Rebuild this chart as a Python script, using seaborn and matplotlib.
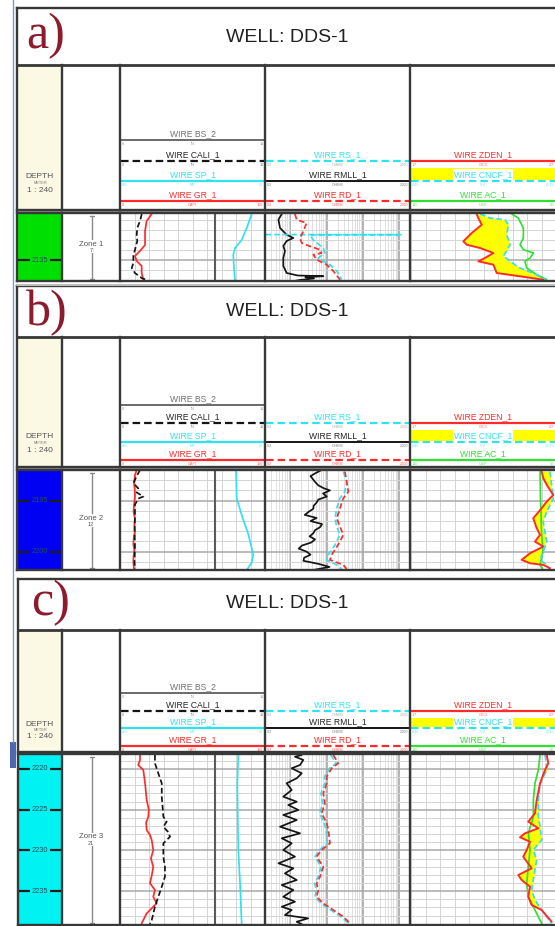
import numpy as np
import matplotlib
matplotlib.use("Agg")
import matplotlib.pyplot as plt
from matplotlib.patches import Rectangle
from matplotlib.ticker import MultipleLocator, LogLocator
import seaborn as sns

# ====================== DATA ======================
WELL_TITLE = "WELL: DDS-1"
PANEL_LABELS = ["a)", "b)", "c)"]
ZONE_NAMES = ["Zone 1", "Zone 2", "Zone 3"]
ZONE_THICKNESS = ["7", "12", "21"]
SCALE_TEXT = "1 : 240"
DEPTH_TICKS_A = [2135]
DEPTH_TICKS_B = [2195, 2200]
DEPTH_TICKS_C = [2220, 2225, 2230, 2235]
DEPTH_RANGE_A = [2130.3, 2137.1]
DEPTH_RANGE_B = [2192.0, 2201.8]
DEPTH_RANGE_C = [2218.16, 2239.16]

TRACK1_CURVES = ["WIRE BS_2", "WIRE CALI_1", "WIRE SP_1", "WIRE GR_1"]
TRACK2_CURVES = ["WIRE RS_1", "WIRE RMLL_1", "WIRE RD_1"]
TRACK3_CURVES = ["WIRE ZDEN_1", "WIRE CNCF_1", "WIRE AC_1"]
UNITS = {"BS": "IN", "CALI": "IN", "SP": "MV", "GR": "GAPI", "RES": "OHMM",
         "ZDEN": "G/C3", "CNCF": "V/V", "AC": "US/F"}
BS_SCALE = [6, 16]
CALI_SCALE = [6, 16]
SP_SCALE = [-80, 20]
GR_SCALE = [0, 150]
RES_SCALE = [0.2, 2000]
ZDEN_SCALE = [1.7, 2.7]
CNCF_SCALE = [0.45, -0.15]
AC_SCALE = [140, 40]

# ---- panel a ----
A_GR_DEPTH = [2130.4, 2131.1, 2132.1, 2133.5, 2134.1, 2134.6, 2135.1, 2135.6, 2136.3, 2137.0]
A_GR = [32.8, 27.6, 25.9, 25.9, 20.7, 15.5, 17.3, 22.4, 22.4, 24.1]
A_CALI_DEPTH = [2130.4, 2131.1, 2131.8, 2132.5, 2133.1, 2134.0, 2134.6, 2135.3, 2135.8, 2136.3, 2136.8, 2137.0]
A_CALI = [7.50, 7.38, 7.19, 7.15, 7.19, 7.03, 6.92, 6.92, 6.81, 7.03, 7.50, 7.84]
A_SP_DEPTH = [2130.4, 2131.8, 2133.0, 2133.8, 2134.5, 2135.8, 2137.0]
A_SP = [10.8, 7.4, 3.9, -0.7, -1.9, -1.4, -0.7]
A_RMLL_DEPTH = [2130.4, 2130.97, 2131.8, 2132.47, 2132.8, 2133.1, 2133.6, 2134.1, 2134.8, 2135.6, 2136.3,
                2136.55, 2136.62, 2136.72, 2136.85, 2137.0, 2137.1]
A_RMLL = [0.58, 0.47, 0.52, 0.79, 1.21, 0.79, 0.64, 0.71, 0.64, 0.64, 0.79, 1.6, 8.1, 2.6, 4.5, 1.8, 1.3]
A_RD_DEPTH = [2130.4, 2130.97, 2131.3, 2132.13, 2132.8, 2133.3, 2133.63, 2133.97, 2134.3, 2134.47, 2134.97,
              2135.47, 2136.1, 2136.97]
A_RD = [1.34, 1.5, 2.8, 2.28, 1.85, 2.06, 3.48, 6.6, 7.3, 4.3, 5.3, 10.1, 15.3, 23.4]
A_RS_DEPTH = [2132.46, 2132.47, 2132.49, 2132.97, 2133.8, 2134.3, 2134.8, 2135.13, 2135.47, 2136.1, 2136.97]
A_RS = [0.21, 1180, 3.5, 4.2, 8.1, 9.0, 5.9, 8.1, 12.4, 19.0, 26.0]
A_ZDEN_DEPTH = [2130.4, 2130.8, 2131.47, 2132.3, 2133.13, 2133.47, 2133.8, 2134.3, 2134.8, 2135.13, 2135.47,
                2136.3, 2136.63, 2136.97]
A_ZDEN = [2.153, 2.164, 2.188, 2.119, 2.061, 2.084, 2.176, 2.268, 2.210, 2.164, 2.268, 2.291, 2.452, 2.612]
A_CNCF_DEPTH = [2130.4, 2130.8, 2130.97, 2131.47, 2132.47, 2133.47, 2134.1, 2134.6, 2135.13, 2135.8, 2136.47, 2136.97]
A_CNCF = [0.164, 0.123, 0.061, 0.047, 0.054, 0.040, 0.054, 0.068, 0.040, -0.001, -0.070, -0.104]
A_AC_DEPTH = [2130.4, 2130.8, 2131.8, 2132.8, 2133.47, 2133.97, 2134.3, 2134.8, 2135.13, 2135.8, 2136.47, 2136.97]
A_AC = [70.5, 66.0, 62.5, 62.5, 64.8, 62.5, 55.6, 57.9, 61.4, 60.2, 53.3, 46.4]

# ---- panel b ----
B_GR_DEPTH = [2192.0, 2192.5, 2193.3, 2193.9, 2194.6, 2195.4, 2196.1, 2196.8, 2197.4, 2198.0, 2198.7, 2199.3,
              2199.8, 2200.5, 2201.0, 2201.8]
B_GR = [17.3, 15.5, 14.5, 15.2, 15.5, 14.5, 14.0, 15.5, 14.8, 15.5, 14.2, 13.8, 14.8, 14.0, 13.8, 14.5]
B_CALI_DEPTH = [2192.0, 2192.6, 2193.3, 2193.8, 2194.2, 2194.6, 2194.8, 2195.4, 2196.5, 2198.0, 2199.5, 2201.0, 2201.8]
B_CALI = [7.38, 7.15, 6.92, 7.26, 7.15, 7.61, 7.26, 7.03, 7.03, 7.00, 7.03, 7.00, 7.03]
B_SP_DEPTH = [2192.0, 2194.8, 2196.4, 2198.3, 2200.3, 2201.1, 2201.8]
B_SP = [0.0, 0.5, 3.9, 8.5, 11.9, 10.8, 7.4]
B_RMLL_DEPTH = [2192.0, 2192.3, 2192.6, 2192.9, 2193.2, 2193.5, 2193.8, 2194.0, 2194.3, 2194.6, 2194.9, 2195.2,
                2195.5, 2195.8, 2196.1, 2196.4, 2196.7, 2197.0, 2197.3, 2197.6, 2197.9, 2198.2, 2198.5, 2198.8,
                2199.1, 2199.4, 2199.7, 2200.0, 2200.3, 2200.6, 2200.9, 2201.2, 2201.5, 2201.8]
B_RMLL = [7.3, 5.0, 3.6, 4.2, 4.9, 5.9, 8.5, 12.4, 8.0, 10.1, 5.9, 5.3, 4.4, 4.3, 3.2, 2.5, 5.3, 3.6, 7.5, 6.6,
          4.8, 4.3, 3.4, 4.8, 3.8, 2.1, 1.7, 2.8, 3.6, 2.4, 2.3, 6.0, 12.0, 4.3]
B_RD_DEPTH = [2192.16, 2193.14, 2194.12, 2194.77, 2195.75, 2196.73, 2197.55, 2198.36, 2199.34, 2200.32, 2200.81,
              2201.30, 2201.69]
B_RD = [32.0, 35.8, 40.0, 28.9, 23.4, 19.0, 23.4, 28.9, 20.7, 13.8, 12.4, 28.9, 35.8]
B_RS = [28.9, 35.8, 32.0, 23.4, 19.0, 17.1, 19.0, 23.4, 17.1, 11.2, 10.1, 19.0, 26.0]
B_ZDEN_DEPTH = [2192.16, 2192.80, 2193.45, 2194.45, 2195.1, 2195.75, 2196.73, 2197.71, 2198.36, 2199.02, 2199.5,
                2200.16, 2200.8, 2201.14, 2201.3, 2201.63]
B_ZDEN = [2.601, 2.612, 2.636, 2.681, 2.636, 2.601, 2.543, 2.567, 2.590, 2.555, 2.612, 2.521, 2.463, 2.521,
          2.612, 2.659]
B_CNCF_DEPTH = [2192.16, 2193.45, 2194.77, 2196.08, 2197.06, 2198.04, 2199.02, 2200.0, 2200.81, 2201.30, 2201.79]
B_CNCF = [-0.125, -0.132, -0.139, -0.112, -0.097, -0.104, -0.112, -0.097, -0.084, -0.112, -0.125]
B_AC_DEPTH = [2192.16, 2194.77, 2198.04, 2200.0, 2201.30, 2201.79]
B_AC = [51.0, 50.7, 50.0, 49.0, 51.0, 49.0]

# ---- panel c ----
C_GR_DEPTH = [2218.28, 2218.89, 2219.51, 2220.12, 2221.72, 2223.81, 2225.0, 2225.86, 2226.6, 2227.49, 2228.1,
              2228.72, 2229.95, 2231.0, 2232.0, 2233.0, 2234.04, 2234.86, 2235.69, 2236.5, 2237.73, 2238.96]
C_GR = [20.7, 20.7, 18.9, 24.1, 25.9, 27.6, 29.8, 29.3, 27.0, 27.6, 31.0, 32.8, 34.4, 32.0, 34.4, 33.0, 31.0,
        36.2, 34.4, 38.0, 27.6, 22.4]
C_CALI_DEPTH = [2218.28, 2219.3, 2220.53, 2221.76, 2223.40, 2225.86, 2226.47, 2227.09, 2227.7, 2228.32, 2229.13,
                2230.77, 2232.0, 2233.23, 2234.46, 2235.69, 2236.92, 2238.55, 2239.1]
C_CALI = [8.41, 8.41, 8.64, 8.88, 8.88, 8.99, 9.22, 8.99, 9.30, 9.45, 8.99, 8.99, 9.10, 9.10, 8.88, 8.64,
          8.41, 8.19, 8.05]
C_SP_DEPTH = [2218.28, 2221.76, 2225.86, 2229.95, 2234.04, 2238.96]
C_SP = [1.6, 0.9, 1.2, 1.6, 2.8, 3.9]
C_RMLL_DEPTH = [2218.28, 2218.49, 2218.89, 2219.51, 2219.91, 2220.53, 2221.14, 2221.76, 2222.58, 2223.40,
                2224.02, 2224.42, 2225.04, 2225.65, 2226.27, 2227.09, 2227.90, 2228.51, 2229.13, 2229.95,
                2230.77, 2231.58, 2232.20, 2232.81, 2233.64, 2234.25, 2234.86, 2235.69, 2236.30, 2236.92,
                2237.32, 2237.94, 2238.34, 2238.76, 2239.16]
C_RMLL = [2.06, 1.34, 2.28, 1.85, 1.09, 2.06, 1.5, 0.79, 1.09, 0.64, 1.5, 0.88, 1.66, 0.64, 1.5, 0.52, 1.85,
          0.58, 1.09, 0.64, 1.34, 0.47, 1.21, 0.71, 1.5, 0.58, 1.21, 0.64, 1.34, 0.58, 1.09, 0.71, 3.1, 1.5, 2.28]
C_RD_DEPTH = [2218.28, 2219.30, 2219.91, 2220.94, 2221.76, 2222.99, 2224.21, 2225.44, 2226.67, 2227.49, 2229.13,
              2229.95, 2230.77, 2232.0, 2233.23, 2234.04, 2234.86, 2235.69, 2236.5, 2237.32, 2238.14, 2238.96]
C_RD = [15.3, 21.0, 13.8, 10.1, 10.1, 8.1, 9.0, 7.3, 10.1, 11.2, 12.4, 7.3, 5.3, 8.1, 6.6, 5.3, 5.9, 5.3, 8.1,
        15.3, 28.9, 44.2]
C_RS = [13.0, 18.5, 12.0, 8.8, 9.0, 7.0, 7.8, 6.5, 8.6, 9.8, 10.5, 6.4, 4.8, 7.0, 5.9, 4.7, 5.2, 4.8, 7.0,
        13.0, 25.0, 40.0]
C_ZDEN_DEPTH = [2218.28, 2219.30, 2220.12, 2221.76, 2223.81, 2225.44, 2226.47, 2227.29, 2227.90, 2228.39, 2228.93,
                2229.95, 2230.77, 2232.20, 2233.02, 2233.64, 2234.46, 2235.69, 2236.71, 2237.32, 2238.76]
C_ZDEN = [2.636, 2.647, 2.624, 2.590, 2.567, 2.555, 2.509, 2.578, 2.486, 2.452, 2.521, 2.498, 2.474, 2.532,
          2.440, 2.463, 2.521, 2.509, 2.532, 2.601, 2.670]
C_CNCF_DEPTH = [2218.28, 2220.12, 2221.76, 2223.81, 2225.86, 2227.09, 2228.72, 2229.95, 2231.18, 2232.41,
                2233.64, 2234.86, 2236.09, 2237.32, 2238.96]
C_CNCF = [-0.105, -0.112, -0.084, -0.077, -0.077, -0.084, -0.091, -0.056, -0.070, -0.063, -0.056, -0.049,
          -0.063, -0.091, -0.132]
C_AC_DEPTH = [2218.28, 2220.12, 2221.76, 2223.81, 2225.86, 2227.90, 2229.95, 2232.0, 2234.04, 2235.69, 2236.92,
              2238.14, 2238.96]
C_AC = [51.0, 52.2, 54.5, 55.6, 55.6, 59.1, 57.9, 59.1, 60.2, 59.1, 55.6, 52.2, 49.9]

# ====================== STYLE / LAYOUT ======================
sns.set_theme(style="white")
plt.rcParams["font.family"] = ["Liberation Sans", "DejaVu Sans"]

W, H = 555, 926
RED, CYAN, BLACK, GREEN, YELLOW = "#ff2b2b", "#30e2f0", "#151515", "#30e030", "#ffff00"
BORDER = "#383838"
DEPTH_COLORS = ["#00e000", "#0000f2", "#00f2f2"]
XD0, XD1, XZ1, XT1, XT2, XT3 = 18, 62, 120, 265, 410, 556
LAYOUT = [
    dict(top=8, tb=65, hb=210, tt=213, bt=281, left=17, lines=(140, 161, 181, 201),
         lab=(26, 48), title_y=37, dep_txt=(176, 183, 191), zone_y=244),
    dict(top=286, tb=337, hb=467, tt=470, bt=570, left=17, lines=(405, 423, 442, 460),
         lab=(26, 325), title_y=312, dep_txt=(437, 443, 450), zone_y=518),
    dict(top=579, tb=630, hb=752, tt=754, bt=925, left=18, lines=(693, 711, 728, 746),
         lab=(31, 615), title_y=604, dep_txt=(724, 730, 737), zone_y=837),
]

fig = plt.figure(figsize=(W / 100, H / 100), dpi=100, facecolor="white")


def R(x0, y0, x1, y1):
    return [x0 / W, 1 - y1 / H, (x1 - x0) / W, (y1 - y0) / H]


def pix_axes(z):
    a = fig.add_axes([0, 0, 1, 1], zorder=z)
    a.set_xlim(0, W)
    a.set_ylim(H, 0)
    a.axis("off")
    return a


deco = pix_axes(0)
frame = pix_axes(30)

# left blue window edge
deco.plot([12.5, 12.5], [0, 742], color="#7d95d0", lw=1.0)
deco.add_patch(Rectangle((10, 742), 6, 26, color="#5068b4", lw=0))


def style_grid(ax, log=False, xstep=None):
    ax.set_facecolor("white")
    for s in ax.spines.values():
        s.set_visible(False)
    ax.yaxis.set_major_locator(MultipleLocator(5))
    ax.yaxis.set_minor_locator(MultipleLocator(1))
    if log:
        ax.set_xscale("log")
        ax.xaxis.set_major_locator(LogLocator(base=10, numticks=12))
        ax.xaxis.set_minor_locator(LogLocator(base=10, subs=np.arange(2, 10), numticks=40))
        ax.grid(True, axis="x", which="major", color="#b2b2b2", lw=1.4)
        ax.grid(True, axis="x", which="minor", color="#dadada", lw=0.6)
    else:
        ax.xaxis.set_major_locator(MultipleLocator(xstep))
        ax.grid(True, axis="x", which="major", color="#d4d4d4", lw=0.7)
    ax.grid(True, axis="y", which="major", color="#a8a8a8", lw=1.1)
    ax.grid(True, axis="y", which="minor", color="#d4d4d4", lw=0.7)
    ax.tick_params(which="both", length=0, labelbottom=False, labelleft=False)


def overlay(rect, base, z, log=False):
    a = fig.add_axes(rect, zorder=z, sharey=base)
    if log:
        a.set_xscale("log")
    a.axis("off")
    return a


def curve(ax, vals, depth, color, dashed=False, lw=1.25):
    sns.lineplot(x=vals, y=depth, ax=ax, orient="y", sort=False, estimator=None, color=color,
                 linewidth=lw, linestyle=(0, (3.2, 1.7)) if dashed else "-", legend=False)
    ax.set_xlabel("")
    ax.set_ylabel("")


def hdr_line(y, x0, x1, color, dashed=False, lw=1.6):
    deco.plot([x0 + 1, x1 - 1], [y, y], color=color, lw=lw,
              ls=(0, (3.4, 1.8)) if dashed else "-", solid_capstyle="butt", dash_capstyle="butt")


def hdr_label(xc, y, s, color, bg=False):
    kw = {}
    if bg:
        kw["bbox"] = dict(boxstyle="square,pad=0.15", fc="white", ec="none")
    deco.text(xc, y - 6.5, s, ha="center", va="center", fontsize=6.2, color=color, **kw)


def hdr_scale(x0, x1, y, sc, unit, color):
    for xx, s, ha in ((x0 + 1.5, f"{sc[0]:g}", "left"), ((x0 + x1) / 2, unit, "center"),
                      (x1 - 1.5, f"{sc[1]:g}", "right")):
        deco.text(xx, y + 4, s, ha=ha, va="center", fontsize=2.7, color=color, alpha=0.75)


PANELS = [
    dict(ticks=DEPTH_TICKS_A, rng=DEPTH_RANGE_A, gr=(A_GR, A_GR_DEPTH), cali=(A_CALI, A_CALI_DEPTH),
         sp=(A_SP, A_SP_DEPTH), rmll=(A_RMLL, A_RMLL_DEPTH), rd=(A_RD, A_RD_DEPTH), rs=(A_RS, A_RS_DEPTH),
         zden=(A_ZDEN, A_ZDEN_DEPTH), cncf=(A_CNCF, A_CNCF_DEPTH), ac=(A_AC, A_AC_DEPTH)),
    dict(ticks=DEPTH_TICKS_B, rng=DEPTH_RANGE_B, gr=(B_GR, B_GR_DEPTH), cali=(B_CALI, B_CALI_DEPTH),
         sp=(B_SP, B_SP_DEPTH), rmll=(B_RMLL, B_RMLL_DEPTH), rd=(B_RD, B_RD_DEPTH), rs=(B_RS, B_RD_DEPTH),
         zden=(B_ZDEN, B_ZDEN_DEPTH), cncf=(B_CNCF, B_CNCF_DEPTH), ac=(B_AC, B_AC_DEPTH)),
    dict(ticks=DEPTH_TICKS_C, rng=DEPTH_RANGE_C, gr=(C_GR, C_GR_DEPTH), cali=(C_CALI, C_CALI_DEPTH),
         sp=(C_SP, C_SP_DEPTH), rmll=(C_RMLL, C_RMLL_DEPTH), rd=(C_RD, C_RD_DEPTH), rs=(C_RS, C_RD_DEPTH),
         zden=(C_ZDEN, C_ZDEN_DEPTH), cncf=(C_CNCF, C_CNCF_DEPTH), ac=(C_AC, C_AC_DEPTH)),
]

for i, (lay, pdat) in enumerate(zip(LAYOUT, PANELS)):
    top, tb, hb, tt, bt, left = lay["top"], lay["tb"], lay["hb"], lay["tt"], lay["bt"], lay["left"]
    yBS, yCA, ySP, yGR = lay["lines"]
    d0, d1 = pdat["rng"]

    # ---------- title row ----------
    deco.text(lay["lab"][0], lay["lab"][1], PANEL_LABELS[i], ha="left", va="baseline",
              fontsize=36, color="#8c1b2e", family=["Liberation Serif", "DejaVu Serif"])
    deco.text(287, lay["title_y"], WELL_TITLE, ha="center", va="center", fontsize=14, color="#222222")

    # ---------- header ----------
    deco.add_patch(Rectangle((left, tb), XD1 - left, hb - tb, color="#fbf9e4", lw=0))
    deco.text(40, lay["dep_txt"][0], "DEPTH", ha="center", va="center", fontsize=6, color="#555555")
    deco.text(40, lay["dep_txt"][1], "METER", ha="center", va="center", fontsize=2.8, color="#777777")
    deco.text(40, lay["dep_txt"][2], SCALE_TEXT, ha="center", va="center", fontsize=6, color="#555555")

    c1, c2, c3 = (XZ1 + XT1) / 2, (XT1 + XT2) / 2, (XT2 + XT3) / 2
    # track 1
    hdr_line(yBS, XZ1, XT1, "#6a6a6a", lw=1.4)
    hdr_label(c1, yBS, TRACK1_CURVES[0], "#707070")
    hdr_scale(XZ1, XT1, yBS, BS_SCALE, UNITS["BS"], "#707070")
    hdr_line(yCA, XZ1, XT1, BLACK, dashed=True)
    hdr_label(c1, yCA, TRACK1_CURVES[1], "#252525")
    hdr_scale(XZ1, XT1, yCA, CALI_SCALE, UNITS["CALI"], "#555555")
    hdr_line(ySP, XZ1, XT1, CYAN)
    hdr_label(c1, ySP, TRACK1_CURVES[2], CYAN)
    hdr_scale(XZ1, XT1, ySP, SP_SCALE, UNITS["SP"], CYAN)
    hdr_line(yGR, XZ1, XT1, RED)
    hdr_label(c1, yGR, TRACK1_CURVES[3], RED)
    hdr_scale(XZ1, XT1, yGR, GR_SCALE, UNITS["GR"], RED)
    # track 2
    hdr_line(yCA, XT1, XT2, CYAN, dashed=True)
    hdr_label(c2, yCA, TRACK2_CURVES[0], CYAN)
    hdr_scale(XT1, XT2, yCA, RES_SCALE, UNITS["RES"], "#909090")
    hdr_line(ySP, XT1, XT2, BLACK, lw=1.4)
    hdr_label(c2, ySP, TRACK2_CURVES[1], "#252525")
    hdr_scale(XT1, XT2, ySP, RES_SCALE, UNITS["RES"], "#555555")
    hdr_line(yGR, XT1, XT2, RED, dashed=True)
    hdr_label(c2, yGR, TRACK2_CURVES[2], RED)
    hdr_scale(XT1, XT2, yGR, RES_SCALE, UNITS["RES"], RED)
    # track 3
    deco.add_patch(Rectangle((XT2 + 1, yCA + 7), XT3 - XT2, ySP - yCA - 8, color=YELLOW, lw=0))
    hdr_line(yCA, XT2, XT3, RED)
    hdr_label(c3, yCA, TRACK3_CURVES[0], RED)
    hdr_scale(XT2, XT3, yCA, ZDEN_SCALE, UNITS["ZDEN"], RED)
    hdr_line(ySP, XT2, XT3, CYAN, dashed=True)
    hdr_label(c3, ySP, TRACK3_CURVES[1], CYAN, bg=True)
    hdr_scale(XT2, XT3, ySP, CNCF_SCALE, UNITS["CNCF"], CYAN)
    hdr_line(yGR, XT2, XT3, GREEN)
    hdr_label(c3, yGR, TRACK3_CURVES[2], GREEN)
    hdr_scale(XT2, XT3, yGR, AC_SCALE, UNITS["AC"], GREEN)

    # ---------- depth column ----------
    axd = fig.add_axes(R(XD0, tt, XD1, bt), zorder=5)
    axd.set_facecolor(DEPTH_COLORS[i])
    for s in axd.spines.values():
        s.set_visible(False)
    axd.set_xlim(0, 1)
    axd.set_ylim(d1, d0)
    axd.set_xticks([])
    axd.set_yticks(pdat["ticks"])
    axd.tick_params(axis="y", direction="in", length=8.5, width=1.6, color="#1c1c1c",
                    left=True, right=True, labelleft=False, labelright=False)
    for d in pdat["ticks"]:
        axd.text(0.5, d, str(d), ha="center", va="center", fontsize=5.3, color="#2a4f55")

    # ---------- zone column ----------
    deco.plot([92, 92], [tt + 3, bt - 2], color="#8a8a8a", lw=1.0)
    deco.plot([90, 94], [tt + 3, tt + 3], color="#8a8a8a", lw=1.0)
    deco.plot([90, 94], [bt - 2, bt - 2], color="#8a8a8a", lw=1.0)
    deco.text(91, lay["zone_y"], ZONE_NAMES[i], ha="center", va="center", fontsize=5.6, color="#555555",
              bbox=dict(boxstyle="square,pad=0.1", fc="white", ec="none"))
    deco.text(91, lay["zone_y"] + 6.5, ZONE_THICKNESS[i], ha="center", va="center", fontsize=4,
              color="#555555", bbox=dict(boxstyle="square,pad=0.05", fc="white", ec="none"))

    # ---------- track 1 ----------
    r1 = R(XZ1, tt, XT1, bt)
    ax_gr = fig.add_axes(r1, zorder=5)
    style_grid(ax_gr, xstep=15)
    ax_gr.axvline(98, color="#5a5a5a", lw=1.5, zorder=1)
    ax_ca = overlay(r1, ax_gr, 6)
    ax_sp = overlay(r1, ax_gr, 7)
    curve(ax_sp, *pdat["sp"], CYAN)
    curve(ax_gr, *pdat["gr"], RED)
    curve(ax_ca, *pdat["cali"], BLACK, dashed=True)

    # ---------- track 2 ----------
    r2 = R(XT1, tt, XT2, bt)
    ax_r = fig.add_axes(r2, zorder=5)
    style_grid(ax_r, log=True)
    curve(ax_r, *pdat["rmll"], BLACK)
    curve(ax_r, *pdat["rs"], CYAN, dashed=True)
    curve(ax_r, *pdat["rd"], RED, dashed=True)

    # ---------- track 3 ----------
    r3 = R(XT2 + 1, tt, XT3, bt)
    ax_b3 = fig.add_axes(r3, zorder=5)
    style_grid(ax_b3, xstep=0.1)
    ax_ac = overlay(r3, ax_b3, 6)
    ax_cn = overlay(r3, ax_b3, 7)
    ax_zd = overlay(r3, ax_b3, 8)
    curve(ax_ac, *pdat["ac"], GREEN)
    curve(ax_cn, *pdat["cncf"], CYAN, dashed=True)
    curve(ax_zd, *pdat["zden"], RED, lw=1.4)

    def set_limits():
        ax_gr.set_xlim(*GR_SCALE)
        ax_ca.set_xlim(*CALI_SCALE)
        ax_sp.set_xlim(*SP_SCALE)
        ax_r.set_xlim(*RES_SCALE)
        ax_b3.set_xlim(*ZDEN_SCALE)
        ax_zd.set_xlim(*ZDEN_SCALE)
        ax_cn.set_xlim(*CNCF_SCALE)
        ax_ac.set_xlim(*AC_SCALE)
        for a in (ax_gr, ax_r, ax_b3):
            a.set_ylim(d1, d0)

    set_limits()

    # yellow fill between ZDEN and CNCF (CNCF mapped onto the ZDEN scale via the axes transforms)
    zv, zd = pdat["zden"]
    cv, cd = pdat["cncf"]
    g0, g1 = max(min(zd), min(cd)), min(max(zd), max(cd))
    grid = np.linspace(g0, g1, 800)
    z_i = np.interp(grid, zd, zv)
    c_nat = np.interp(grid, cd, cv)
    disp = ax_cn.transData.transform(np.column_stack([c_nat, grid]))
    c_i = ax_b3.transData.inverted().transform(disp)[:, 0]
    ax_b3.fill_betweenx(grid, z_i, c_i, where=c_i > z_i, interpolate=True, color=YELLOW, lw=0, zorder=2)
    set_limits()

    # ---------- frame lines ----------
    kw = dict(color=BORDER, lw=1.7, solid_capstyle="projecting")
    frame.plot([left, left], [top, bt], **kw)
    frame.plot([left, W], [top, top], **kw)
    frame.plot([left, W], [tb, tb], color=BORDER, lw=2.0)
    frame.plot([left, W], [hb, hb], **kw)
    frame.plot([left, W], [tt, tt], **kw)
    frame.plot([left, W], [bt, bt], **kw)
    for xx in (XD1, XZ1, XT1, XT2):
        frame.plot([xx, xx], [tb, hb], **kw)
        frame.plot([xx, xx], [tt, bt], **kw)
    deco.add_patch(Rectangle((left, hb), W - left, tt - hb, color="#9a9a9a", lw=0))

# light double line under panel a
frame.plot([17, W], [284.5, 284.5], color="#bdbdbd", lw=1.5)

fig.savefig("out.png", dpi=100, facecolor="white")
